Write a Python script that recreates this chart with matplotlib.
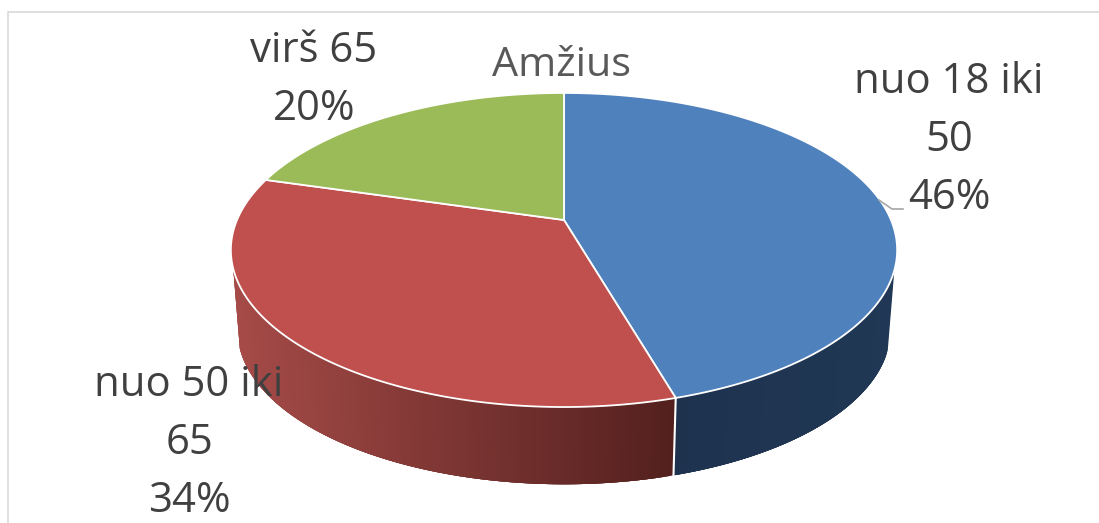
import numpy as np
import matplotlib
matplotlib.use("Agg")
import matplotlib.pyplot as plt
from matplotlib.collections import PolyCollection
from matplotlib.colors import to_rgb

title = "Amžius"
categories = ["nuo 18 iki\n50", "nuo 50 iki\n65", "virš 65"]
shares = [45.5, 34.0, 20.5]
share_labels = ["46%", "34%", "20%"]
top_colors = ["#4F81BD", "#C0504D", "#9BBB59"]

# perspective pie geometry (pixels)
APEX = (564.0, 220.0)
A, B, K = 327.0, 151.3, 0.191
SCALE_LOW, DROP = 0.98, 81.0


def top_xy(theta):
    u, v = np.sin(theta), np.cos(theta)
    d = 1 + K * v
    return APEX[0] + A * u / d, APEX[1] - B * v / d


def low_xy(theta):
    x, y = top_xy(theta)
    return APEX[0] + SCALE_LOW * (x - APEX[0]), APEX[1] + DROP + SCALE_LOW * (y - APEX[1])


def side_color(i, x):
    if i == 0:
        t = np.clip((x - 675) / 220, 0, 1)
        return tuple(np.array(to_rgb("#1E324E")) * (1 - t) + np.array(to_rgb("#203855")) * t)
    if i == 1:
        t = np.clip((x - 232) / 444, 0, 1)
        return tuple(np.array(to_rgb("#A64B48")) * (1 - t) + np.array(to_rgb("#53201E")) * t)
    return to_rgb("#6F8A3C")


fig = plt.figure(figsize=(10.99, 5.23), dpi=100, facecolor="white")
ax = fig.add_axes([0, 0, 1, 1])
ax.set_xlim(0, 1099)
ax.set_ylim(523, 0)
ax.axis("off")

edges = np.concatenate([[0], np.cumsum(shares)]) / np.sum(shares) * 2 * np.pi

# chart frame
ax.plot([8, 8, 1099], [523, 12, 12], color="#D9D9D9", lw=1.2, solid_joinstyle="miter", zorder=1)

# side wall, drawn as overlapping vertical strips
for i, (a0, a1) in enumerate(zip(edges[:-1], edges[1:])):
    th = np.linspace(a0, a1, 160)
    th = th[np.cos(th) < -0.3]
    if len(th) < 2:
        continue
    tx, ty = top_xy(th)
    lx, ly = low_xy(th)
    quads, cols = [], []
    for j in range(len(th) - 1):
        e = min(j + 4, len(th) - 1)
        quads.append(list(zip(tx[j:e + 1], ty[j:e + 1])) + list(zip(lx[j:e + 1][::-1], ly[j:e + 1][::-1])))
        cols.append(side_color(i, tx[j]))
    ax.add_collection(PolyCollection(quads, facecolors=cols, edgecolors="none", zorder=2))

# white divider between the visible side walls
bx, by = top_xy(edges[1])
cx, cy = low_xy(edges[1])
ax.plot([bx, cx], [by, cy], color="white", lw=1.5, zorder=3)

# top face
for i, (a0, a1) in enumerate(zip(edges[:-1], edges[1:])):
    th = np.linspace(a0, a1, 300)
    x, y = top_xy(th)
    xs = np.concatenate([[APEX[0]], x])
    ys = np.concatenate([[APEX[1]], y])
    ax.fill(xs, ys, facecolor=top_colors[i], edgecolor="white", lw=1.3, joinstyle="round", zorder=4)

# leader line
ax.plot([879, 892, 903], [200, 209, 209], color="#A6A6A6", lw=1.2, zorder=5)

FONT = "Open Sans"
SIZE = 30.2
INK = "#404040"


def block(cx, baselines, lines):
    for yb, s in zip(baselines, lines):
        ax.text(cx, yb, s, ha="center", va="baseline", family=FONT, fontsize=SIZE, color=INK, zorder=6)


block(949, [93, 151, 209], categories[0].split("\n") + [share_labels[0]])
block(189, [396, 454, 512], categories[1].split("\n") + [share_labels[1]])
block(314, [62, 120], categories[2].split("\n") + [share_labels[2]])
ax.text(561, 76, title, ha="center", va="baseline", family=FONT, fontsize=29.7, color="#595959", zorder=6)

fig.savefig("out.png", dpi=100, facecolor="white")
